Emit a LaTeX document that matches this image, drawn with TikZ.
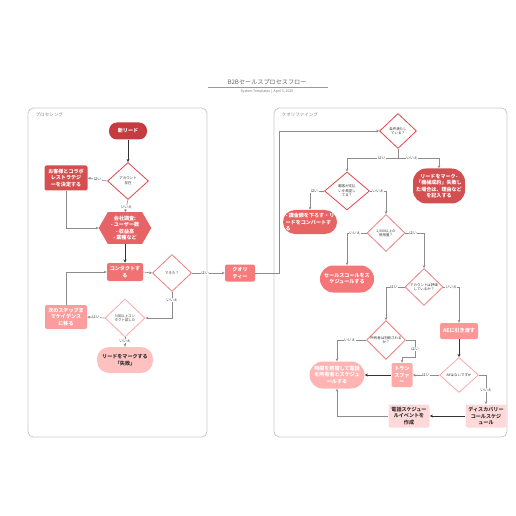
\documentclass[tikz,border=0pt]{standalone}
\usepackage{fontspec}
\setmainfont{Noto Sans CJK JP}
\usetikzlibrary{shapes.geometric,arrows.meta,calc,backgrounds}
\definecolor{c1}{HTML}{C43B40}
\definecolor{c2}{HTML}{D64E4F}
\definecolor{c3}{HTML}{E66465}
\definecolor{c4}{HTML}{F07373}
\definecolor{c5}{HTML}{F77B7B}
\definecolor{c6}{HTML}{FB9D9D}
\definecolor{c7}{HTML}{FFC0C0}
\definecolor{r1}{HTML}{D34E50}
\definecolor{r2}{HTML}{E66464}
\definecolor{r3}{HTML}{F47676}
\definecolor{r4}{HTML}{FF9696}
\definecolor{r5}{HTML}{FFA9A9}
\definecolor{r6}{HTML}{FFB4B4}
\definecolor{r7}{HTML}{FFD9D9}
\definecolor{d1}{HTML}{E0474C}
\definecolor{d2}{HTML}{F07C7E}
\definecolor{d3}{HTML}{FFA8A8}
\definecolor{lanec}{HTML}{C8C8C8}
\begin{document}
\begin{tikzpicture}[x=0.75pt,y=-0.75pt,
  sz/.style 2 args={minimum width=#1*0.75pt, minimum height=#2*0.75pt},
  bx/.style={rectangle, rounded corners=1.5pt, inner sep=0.5pt, align=center, text=white,
    font=\fontsize{3.8pt}{4.7pt}\selectfont\bfseries},
  dia/.style={diamond, draw=#1, fill=white, line width=0.6pt, inner sep=0pt, align=center,
    text=black!80, font=\fontsize{2.6pt}{3.4pt}\selectfont},
  lbl/.style={fill=white, inner sep=0.4pt, text=black!75, font=\fontsize{2.8pt}{3.2pt}\selectfont},
  ln/.style={draw=black!45, line width=0.45pt, -{Stealth[length=2.2pt,width=2pt]}},
  dk/.style={draw=black!80, line width=0.7pt, -{Stealth[length=2.4pt,width=2.2pt]}},
  lane/.style={draw=lanec, line width=0.6pt, rounded corners=4pt},
  lanelbl/.style={anchor=west, text=black!50, font=\fontsize{3.4pt}{4pt}\selectfont}
]
\useasboundingbox (0,0) rectangle (516,516);

% title
\node[text=black!60, font=\fontsize{4.6pt}{5pt}\selectfont] (title) at (267,82) {B2Bセールスプロセスフロー};
\coordinate (tl) at (208,87.5);
\coordinate (tr2) at (328,87.5);
\draw[black!40, line width=0.4pt] (tl) -- (tr2);
\node[text=black!55, font=\fontsize{2.6pt}{3pt}\selectfont] (sub) at (267,91.5) {System Templates \,|\, April 3, 2020};

% swimlanes
\draw[lane] (28,108) rectangle (207,437);
\draw[lane] (274,108) rectangle (507,437);
\node[lanelbl] (lp) at (31,115) {プロセシング};
\node[lanelbl] (lq) at (277,115) {クオリファイング};

% left lane nodes
\node[bx, fill=c1, rounded corners=6pt, sz={38}{17}] (lead) at (128,131) {新リード};
\node[dia=d1, sz={41}{37}] (acc) at (128,181) {アカウント\\存在};
\node[bx, fill=c2, sz={43}{25}] (collab) at (66,178) {お客様とコラボ\\レストラテジ\\ーを決定する};
\node[bx, sz={52}{31}] (hex) at (125,228) {会社調査:\\- ユーザー数\\- 収益高\\- 業種など};
\begin{pgfonlayer}{background}
\fill[c3] (hex.west) -- ($(hex.north west)+(9,0)$) -- ($(hex.north east)+(-9,0)$) -- (hex.east)
  -- ($(hex.south east)+(-9,0)$) -- ($(hex.south west)+(9,0)$) -- cycle;
\end{pgfonlayer}
\node[bx, fill=c4, sz={36}{18}] (contact) at (125,272) {コンタクトす\\る};
\node[dia=d2, sz={39}{37}] (done) at (172,273) {できた？};
\node[bx, fill=c5, sz={30}{17}] (qual) at (240,273) {クオリ\\ティー};
\node[dia=d3, sz={40}{38}] (three) at (125,318) {3 回以上コン\\タクト試した};
\node[bx, fill=c6, sz={42}{24}] (next) at (66,317) {次のステップま\\でケイデンス\\に移る};
\node[bx, fill=c7, text=black!80, rounded corners=9pt, sz={56}{26}] (fail) at (125,360) {リードをマークする\\「失敗」};

% right lane nodes
\node[dia=d1, sz={37}{35}] (cond) at (398,131) {条件満たし\\ている？};
\node[bx, fill=r1, rounded corners=10pt, sz={52}{35}] (mark) at (439,186) {リードをマーク-\\「機械成約」失敗し\\た場合は、理由など\\を記入する};
\node[dia=d1, sz={45}{38}] (cust) at (347,191) {顧客が支払\\いを希望し\\てる？};
\node[bx, fill=r2, rounded corners=9pt, align=left, sz={54}{24}] (bill) at (310,222) {- 課金額を下ろす・リ\\ードをコンバートす\\る};
\node[dia=d2, sz={38}{37}] (use) at (386,233) {1,000以上の\\使用量？};
\node[bx, fill=r3, rounded corners=10pt, sz={54}{27}] (sales) at (347,279) {セールスコールをス\\ケジュールする};
\node[dia=d2, sz={38}{37}] (eval) at (424,287) {アカウントは評価\\しているか？};
\node[dia=d2, sz={39}{35}] (owner) at (386,340) {所有者は判断される\\か？};
\node[bx, fill=r4, sz={38}{16}] (ae) at (459,331) {AEに引き渡す};
\node[dia=d3, sz={39}{35}] (aeq) at (459,375) {AEはないですか};
\node[bx, fill=r5, sz={21}{24}] (trn) at (402,375) {トラン\\スファ\\ー};
\node[bx, fill=r6, rounded corners=10pt, sz={55}{27}] (time) at (337,375) {時間を把握して電話\\を所有者とスケジュ\\ールする};
\node[bx, fill=r7, text=black!80, sz={41}{23}] (tel) at (409,416) {電話スケジュー\\ルイベントを\\作成};
\node[bx, fill=r7, text=black!80, sz={41}{23}] (disc) at (486,416) {ディスカバリー\\コールスケジ\\ュール};

% coordinates for bends
\coordinate (q1) at (279,273);
\coordinate (cb) at (398,158);
\coordinate (o1) at (415,357);

% left connectors
\draw[dk] (lead) -- (acc);
\draw[ln] (acc.west) -- node[lbl]{はい} (collab.east);
\draw[ln] (acc.south) -- node[lbl, pos=0.55]{いいえ} (hex.north);
\draw[ln] (collab.south) |- (hex.west);
\draw[dk] (hex.south) -- (contact.north);
\draw[ln] (contact.east) -- (done.west);
\draw[ln] (done.east) -- node[lbl, pos=0.4]{はい} (qual.west);
\draw[ln] (done.south) |- node[lbl, pos=0.15]{いいえ} (three.east);
\draw[ln] (three.west) -- node[lbl]{はい} (next.east);
\draw[ln] (next.north) |- (contact.west);
\draw[ln] (three.south) -- node[lbl, pos=0.35]{いいえ} (fail.north);
\draw[ln] (qual.east) -- (q1) |- (cond.west);

% right connectors
\draw[draw=black!45, line width=0.45pt] (cond.south) -- (cb);
\draw[ln] (cb) -| node[lbl, pos=0.16]{はい} (cust.north);
\draw[ln] (cb) -| node[lbl, pos=0.17]{いいえ} (mark.north);
\draw[ln] (cust.west) -| node[lbl, pos=0.35]{はい} (bill.north);
\draw[ln] (cust.east) -| node[lbl, pos=0.25]{いいえ} (use.north);
\draw[ln] (use.west) -| node[lbl, pos=0.3]{いいえ} (sales.north);
\draw[ln] (use.east) -| node[lbl, pos=0.21]{はい} (eval.north);
\draw[ln] (eval.west) -| node[lbl, pos=0.29]{はい} (owner.north);
\draw[ln] (eval.east) -| node[lbl, pos=0.25]{いいえ} (ae.north);
\draw[ln] (owner.west) -| node[lbl, pos=0.28]{いいえ} (time.north);
\draw[ln] (owner.east) -| node[lbl, pos=0.76]{はい} (o1) -| (trn.north);
\draw[dk] (ae.south) -- (aeq.north);
\draw[ln] (aeq.west) -- node[lbl]{はい} (trn.east);
\draw[dk] (trn.west) -- (time.east);
\draw[ln] (aeq.east) -| node[lbl, pos=0.75]{いいえ} (disc.north);
\draw[dk] (disc.west) -- (tel.east);
\draw[ln] (tel.west) -| (time.south);
\end{tikzpicture}
\end{document}
